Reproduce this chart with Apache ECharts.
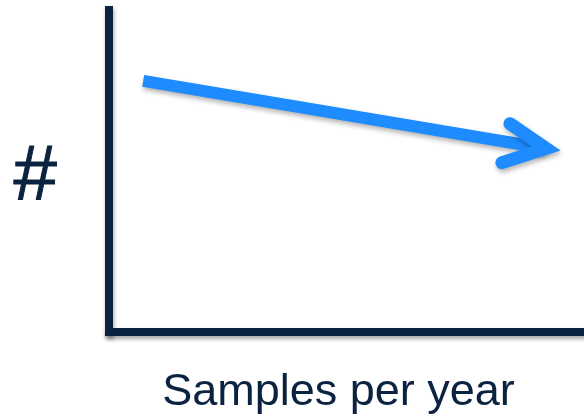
<!DOCTYPE html>
<html>
<head>
<meta charset="utf-8">
<script src="https://cdn.jsdelivr.net/npm/echarts@6/dist/echarts.min.js"></script>
<style>html,body{margin:0;padding:0;background:#fff;}#c{width:584px;height:420px;}</style>
</head>
<body>
<div id="c"></div>
<script>
var xAxisTitle = 'Samples per year';
var yAxisTitle = '#';
// trend arrow shaft: [x, y] in axis units (0-100)
var shaftPoints = [[7.2, 78.0], [92.0, 57.0]];
// arrow head: upper arm end, tip, lower arm end
var headPoints = [[84.4, 64.7], [92.0, 57.0], [82.7, 52.6]];

var navy = '#0b2340';
var blue = '#1e8cff';
var chart = echarts.init(document.getElementById('c'));
var axisShadow = {shadowColor: 'rgba(0,0,0,0.35)', shadowBlur: 4, shadowOffsetX: 1, shadowOffsetY: 3};
var arrowShadow = {shadowColor: 'rgba(0,0,0,0.3)', shadowBlur: 5, shadowOffsetX: 1, shadowOffsetY: 3};
chart.setOption({
  animation: false,
  grid: {left: 109, right: 0, top: 10, bottom: 87},
  xAxis: {
    type: 'value', min: 0, max: 100,
    name: xAxisTitle, nameLocation: 'middle', nameGap: 38,
    nameTextStyle: {color: navy, fontSize: 45, fontFamily: 'Liberation Sans', padding: [0, 16, 0, 0]},
    axisLine: {show: true, onZero: false, lineStyle: Object.assign({color: navy, width: 8, cap: 'square'}, axisShadow)},
    axisTick: {show: false}, axisLabel: {show: false}, splitLine: {show: false}
  },
  yAxis: {
    type: 'value', min: 0, max: 100,
    name: yAxisTitle, nameLocation: 'middle', nameRotate: 0, nameGap: 52,
    nameTextStyle: {color: navy, fontSize: 78, fontFamily: 'Liberation Sans', verticalAlign: 'top', lineHeight: 14, textBorderColor: navy, textBorderWidth: 1},
    axisLine: {show: true, onZero: false, lineStyle: Object.assign({color: navy, width: 8, cap: 'square'}, axisShadow)},
    axisTick: {show: false}, axisLabel: {show: false}, splitLine: {show: false}
  },
  series: [
    {
      type: 'line', data: shaftPoints, symbol: 'none', silent: true,
      lineStyle: Object.assign({color: blue, width: 12, cap: 'butt'}, arrowShadow)
    },
    {
      type: 'line', data: headPoints, symbol: 'none', silent: true,
      lineStyle: Object.assign({color: blue, width: 13, cap: 'round', join: 'miter', miterLimit: 10}, arrowShadow)
    }
  ]
});
</script>
</body>
</html>
